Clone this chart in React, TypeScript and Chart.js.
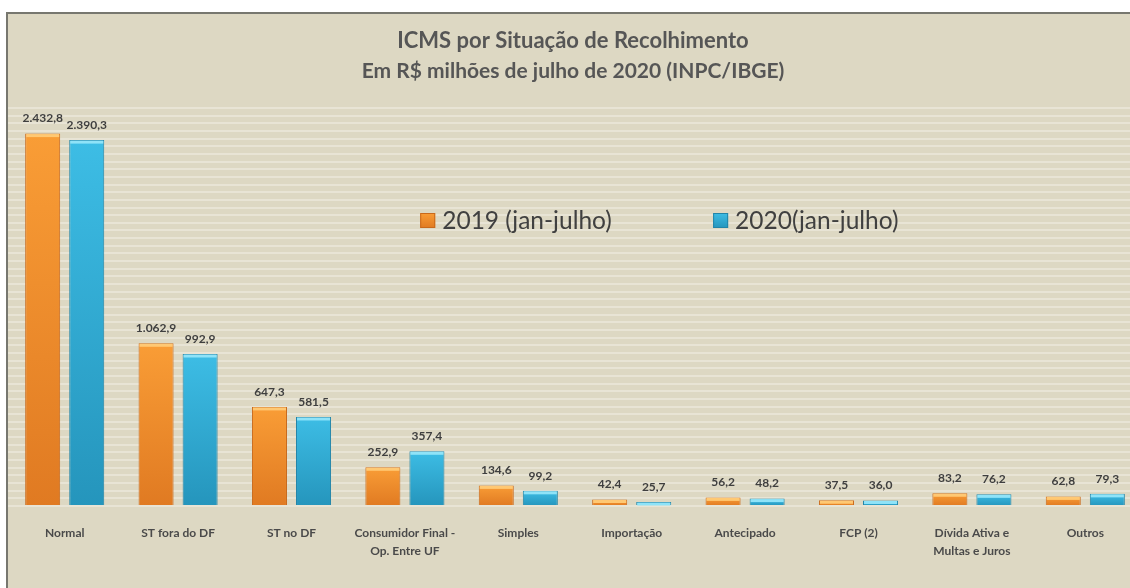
import { useEffect, useRef } from "react";
import { Chart, registerables } from "chart.js";

Chart.register(...registerables);

const categories: (string | string[])[] = [
  "Normal",
  "ST fora do DF",
  "ST no DF",
  ["Consumidor Final -", "Op. Entre UF"],
  "Simples",
  "Importação",
  "Antecipado",
  "FCP (2)",
  ["Dívida Ativa e", "Multas e Juros"],
  "Outros",
];
const values2019 = [2432.8, 1062.9, 647.3, 252.9, 134.6, 42.4, 56.2, 37.5, 83.2, 62.8];
const values2020 = [2390.3, 992.9, 581.5, 357.4, 99.2, 25.7, 48.2, 36.0, 76.2, 79.3];
const seriesLabels = ["2019 (jan-julho)", "2020(jan-julho)"];
const titleLines = ["ICMS por Situação de Recolhimento", "Em R$ milhões de julho de 2020 (INPC/IBGE)"];
const yMin = 0;
const yMax = 2600;
const yStep = 50;

const FONT = "Lato, 'Open Sans', sans-serif";
const palette = [
  { top: "#F99D36", bottom: "#E07A22", bevel: "#FFC873", edge: "#C9691B" },
  { top: "#3DBDE5", bottom: "#2595BC", bevel: "#8FE3F8", edge: "#2284A8" },
];

function fmtBR(v: number): string {
  const fixed = v.toFixed(1);
  const [intPart, dec] = fixed.split(".");
  const withDots = intPart.replace(/\B(?=(\d{3})+(?!\d))/g, ".");
  return withDots + "," + dec;
}

function barGradient(ctx: any, idx: number) {
  const chart = ctx.chart;
  const y = chart.scales?.y;
  const p = palette[idx];
  if (!y || ctx.raw === undefined) return p.top;
  const top = y.getPixelForValue(ctx.raw as number);
  const base = y.getPixelForValue(0);
  if (!isFinite(top) || !isFinite(base) || base - top < 1) return p.top;
  const g = chart.ctx.createLinearGradient(0, top, 0, base);
  g.addColorStop(0, p.top);
  g.addColorStop(1, p.bottom);
  return g;
}

const decorPlugin = {
  id: "decor",
  afterDatasetsDraw(chart: any) {
    const { ctx } = chart;
    ctx.save();
    chart.data.datasets.forEach((ds: any, di: number) => {
      const meta = chart.getDatasetMeta(di);
      const p = palette[di];
      meta.data.forEach((bar: any, i: number) => {
        const { x, y, base, width } = bar.getProps(["x", "y", "base", "width"], true);
        const h = base - y;
        const bh = Math.min(3, h);
        ctx.fillStyle = p.bevel;
        ctx.fillRect(x - width / 2 + 1, y + 0.5, width - 2, bh);
        ctx.fillStyle = "#3f3f3f";
        ctx.font = `bold 12px ${FONT}`;
        ctx.textAlign = "center";
        ctx.textBaseline = "middle";
        ctx.fillText(fmtBR(ds.data[i]), x, y - 15);
      });
    });
    ctx.restore();
  },
  afterDraw(chart: any) {
    const { ctx, chartArea, width } = chart;
    ctx.save();
    ctx.fillStyle = "#565656";
    ctx.font = `bold 22px ${FONT}`;
    ctx.textAlign = "center";
    ctx.textBaseline = "middle";
    ctx.fillText(titleLines[0], width / 2 - 2, 27);
    ctx.font = `bold 21px ${FONT}`;
    ctx.fillText(titleLines[1], width / 2 - 2, 57);
    const fr = [0.3635, 0.6218];
    const cy = chartArea.top + 112;
    seriesLabels.forEach((lab, i) => {
      const p = palette[i];
      const lx = chartArea.left + fr[i] * (chartArea.right - chartArea.left);
      const g = ctx.createLinearGradient(0, cy - 7, 0, cy + 8);
      g.addColorStop(0, p.top);
      g.addColorStop(1, p.bottom);
      ctx.fillStyle = g;
      ctx.fillRect(lx, cy - 7, 15, 15);
      ctx.strokeStyle = p.edge;
      ctx.lineWidth = 1;
      ctx.strokeRect(lx + 0.5, cy - 6.5, 14, 14);
      ctx.fillStyle = "#404040";
      ctx.font = `24.5px ${FONT}`;
      ctx.textAlign = "left";
      ctx.textBaseline = "middle";
      ctx.fillText(lab, lx + 22, cy + 1);
    });
    ctx.restore();
  },
};

export default function App() {
  const canvasRef = useRef<HTMLCanvasElement | null>(null);

  useEffect(() => {
    const canvas = canvasRef.current;
    if (!canvas) return;
    const chart = new Chart(canvas, {
      type: "bar",
      data: {
        labels: categories as any,
        datasets: [
          {
            label: seriesLabels[0],
            data: values2019,
            backgroundColor: (c: any) => barGradient(c, 0),
            borderColor: palette[0].edge,
            borderWidth: 1,
            categoryPercentage: 0.777,
            barPercentage: 0.795,
          },
          {
            label: seriesLabels[1],
            data: values2020,
            backgroundColor: (c: any) => barGradient(c, 1),
            borderColor: palette[1].edge,
            borderWidth: 1,
            categoryPercentage: 0.777,
            barPercentage: 0.795,
          },
        ],
      },
      options: {
        animation: false,
        responsive: false,
        maintainAspectRatio: false,
        devicePixelRatio: 1,
        layout: { padding: { top: 94, left: 0, right: 0, bottom: 0 } },
        plugins: {
          legend: { display: false },
          title: { display: false },
          tooltip: { enabled: false },
        },
        scales: {
          x: {
            grid: { display: false, drawTicks: false },
            border: { display: false },
            ticks: {
              color: "#4a4a4a",
              font: { family: FONT, weight: "bold", size: 12, lineHeight: 1.5 },
              padding: 18,
              maxRotation: 0,
              minRotation: 0,
              autoSkip: false,
            },
            afterFit: (s: any) => {
              s.height = 98;
            },
          },
          y: {
            min: yMin,
            max: yMax,
            ticks: { display: false, stepSize: yStep },
            grid: { color: "#E8E4D5", lineWidth: 2, drawTicks: false },
            border: { display: false },
            afterFit: (s: any) => {
              s.width = 0;
            },
          },
        },
      },
      plugins: [decorPlugin],
    });
    return () => chart.destroy();
  }, []);

  return (
    <div
      style={{
        position: "fixed",
        left: 0,
        top: 0,
        width: 1130,
        height: 588,
        overflow: "hidden",
        background: "#ffffff",
      }}
    >
      <div
        style={{
          position: "absolute",
          left: 6,
          top: 12,
          width: 1140,
          height: 600,
          borderLeft: "2px solid #77776f",
          borderTop: "2px solid #77776f",
          background: "#DDD8C3",
        }}
      >
        <canvas ref={canvasRef} width={1134} height={590} style={{ display: "block" }} />
      </div>
    </div>
  );
}
